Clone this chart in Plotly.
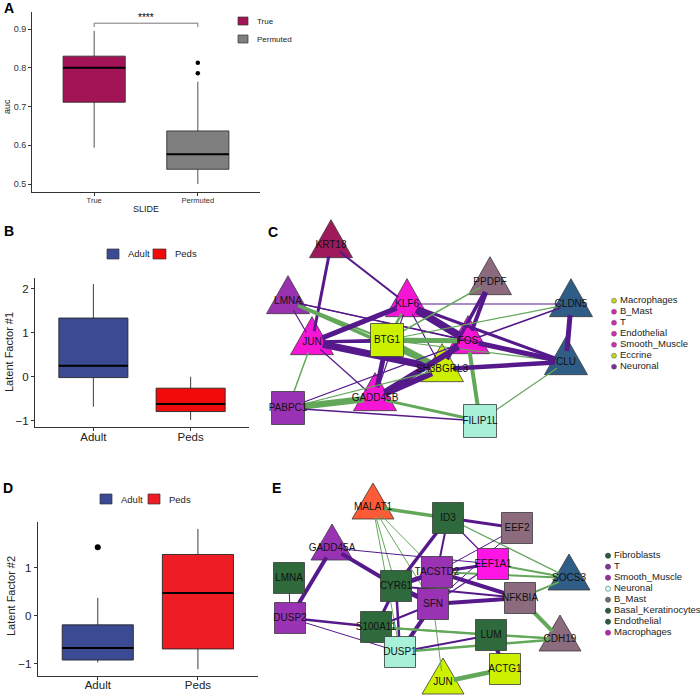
import math
import plotly.graph_objects as go

W, H = 700, 698
FONT = "Liberation Sans, Arial, sans-serif"

# ---------------- Panel A data ----------------
a_groups = ["True", "Permuted"]
a_q1 = [0.711, 0.538]
a_median = [0.800, 0.577]
a_q3 = [0.830, 0.637]
a_low = [0.594, 0.500]
a_high = [0.895, 0.764]
a_outlier_group = [1, 1]
a_outliers = [0.813, 0.786]
a_colors = ["#A21456", "#7F7F7F"]
a_ticks = [0.5, 0.6, 0.7, 0.8, 0.9]

# ---------------- Panel B data ----------------
b_groups = ["Adult", "Peds"]
b_q1 = [-0.02, -0.79]
b_median = [0.25, -0.62]
b_q3 = [1.33, -0.26]
b_low = [-0.68, -0.98]
b_high = [2.10, 0.00]
b_colors = ["#3B4B93", "#F00A0A"]
b_ticks = [-1, 0, 1, 2]

# ---------------- Panel D data ----------------
d_groups = ["Adult", "Peds"]
d_q1 = [-0.92, -0.69]
d_median = [-0.67, 0.47]
d_q3 = [-0.19, 1.27]
d_low = [-0.97, -1.11]
d_high = [0.37, 1.80]
d_outlier_group = [0]
d_outliers = [1.42]
d_colors = ["#3B4B93", "#EE1D23"]
d_ticks = [-1, 0, 1]

# ---------------- Panel C network ----------------
c_nodes = ["KRT18", "LMNA", "KLF6", "PPDPF", "JUN", "BTG1", "FOS", "SH3BGRL3",
           "GADD45B", "PABPC1", "FILIP1L", "CLDN5", "CLU"]
c_x = [331, 288, 407, 490, 312, 387, 468, 442, 375, 288, 480, 571, 566]
c_y = [245, 301, 304, 282, 342, 340, 341, 369, 398, 408, 421, 304, 362]
c_shape = ["tri", "tri", "tri", "tri", "tri", "sq", "tri", "tri", "tri", "sq", "sq", "tri", "tri"]
c_color = ["#9E1A5A", "#9A32B0", "#F516D5", "#8B6A7E", "#F516D5", "#CCF000", "#F516D5",
           "#CCF000", "#F516D5", "#9932B4", "#A8F0D8", "#2F5D85", "#2F5D85"]
c_src = ["KRT18", "KRT18", "LMNA", "LMNA", "LMNA", "LMNA", "LMNA", "KLF6", "KLF6", "KLF6",
         "KLF6", "KLF6", "KLF6", "KLF6", "PPDPF", "PPDPF", "PPDPF", "CLDN5", "CLDN5", "CLDN5",
         "JUN", "JUN", "JUN", "JUN", "JUN", "BTG1", "BTG1", "BTG1", "BTG1", "FOS", "FOS",
         "FOS", "FOS", "SH3BGRL3", "SH3BGRL3", "SH3BGRL3", "GADD45B", "GADD45B", "PABPC1",
         "FILIP1L"]
c_dst = ["JUN", "KLF6", "JUN", "SH3BGRL3", "BTG1", "FOS", "CLU", "CLDN5", "JUN", "FOS",
         "BTG1", "SH3BGRL3", "GADD45B", "CLU", "FOS", "SH3BGRL3", "BTG1", "BTG1", "FOS", "CLU",
         "BTG1", "FOS", "SH3BGRL3", "GADD45B", "PABPC1", "FOS", "SH3BGRL3", "GADD45B", "CLU",
         "CLU", "FILIP1L", "GADD45B", "PABPC1", "CLU", "GADD45B", "PABPC1", "PABPC1",
         "FILIP1L", "FILIP1L", "CLU"]
c_sign = ["n", "n", "n", "p", "p", "n", "n", "n", "n", "n",
          "p", "n", "n", "n", "n", "n", "p", "p", "n", "n",
          "n", "n", "n", "n", "p", "p", "p", "n", "p", "n", "p",
          "n", "n", "n", "n", "p", "p", "p", "n", "p"]
c_width = [3, 2, 1.2, 3.5, 2, 1.2, 1.2, 1.2, 5, 7.5,
           2.5, 1.2, 1.2, 3, 4, 3.5, 1.5, 1.2, 1.5, 5,
           3, 2.5, 7, 1.2, 1.5, 5, 6, 5, 1.2, 5, 4,
           6, 1.2, 4.5, 6, 1.2, 6.5, 3, 1.5, 1.2]
c_leg_labels = ["Macrophages", "B_Mast", "T", "Endothelial", "Smooth_Muscle", "Eccrine", "Neuronal"]
c_leg_colors = ["#BFD81E", "#D62AB3", "#D62AB3", "#D62AB3", "#D62AB3", "#BFD81E", "#7B2C9C"]

# ---------------- Panel E network ----------------
e_nodes = ["MALAT1", "ID3", "EEF2", "GADD45A", "EEF1A1", "TACSTD2", "LMNA", "CYR61", "SOCS3",
           "NFKBIA", "SFN", "DUSP2", "S100A11", "LUM", "CDH19", "DUSP1", "ACTG1", "JUN"]
e_x = [373, 448, 517, 332, 493, 437, 289, 396, 569, 520, 433, 290, 376, 491, 560, 400, 505, 443]
e_y = [507, 518, 528, 548, 564, 572, 578, 586, 578, 598, 604, 618, 627, 635, 639, 652, 669, 682]
e_shape = ["tri", "sq", "sq", "tri", "sq", "sq", "sq", "sq", "tri",
           "sq", "sq", "sq", "sq", "sq", "tri", "sq", "sq", "tri"]
e_color = ["#FF5A36", "#2F6A3C", "#8B6B7D", "#9A32B4", "#FF14E6", "#9A32B4", "#2F6A3C",
           "#2F6A3C", "#2F5D85", "#8B6B7D", "#9A32B4", "#9A32B4", "#2F6A3C", "#2F6A3C",
           "#8B6B7D", "#A8F0D8", "#CCF000", "#CCF000"]
e_src = ["MALAT1", "MALAT1", "MALAT1", "MALAT1", "MALAT1", "ID3", "ID3", "ID3", "ID3", "ID3",
         "EEF2", "EEF2", "GADD45A", "GADD45A", "GADD45A", "LMNA", "CYR61", "CYR61", "CYR61",
         "CYR61", "CYR61", "TACSTD2", "TACSTD2", "TACSTD2", "EEF1A1", "SFN", "SFN", "SFN",
         "SFN", "SFN", "NFKBIA", "NFKBIA", "DUSP2", "DUSP2", "S100A11", "S100A11", "DUSP1",
         "DUSP1", "LUM", "LUM", "JUN"]
e_dst = ["ID3", "CYR61", "TACSTD2", "SFN", "DUSP1", "EEF2", "CYR61", "TACSTD2", "EEF1A1",
         "SOCS3", "TACSTD2", "SFN", "EEF1A1", "CYR61", "DUSP2", "DUSP2", "TACSTD2", "SFN",
         "S100A11", "DUSP1", "NFKBIA", "EEF1A1", "NFKBIA", "SOCS3", "SOCS3", "NFKBIA",
         "DUSP1", "S100A11", "JUN", "EEF1A1", "SOCS3", "CDH19", "S100A11", "DUSP1", "LUM",
         "CDH19", "LUM", "CDH19", "CDH19", "ACTG1", "ACTG1"]
e_sign = ["p", "p", "p", "p", "p", "n", "n", "n", "n", "p",
          "n", "n", "n", "n", "n", "n", "n", "n", "n", "n", "n",
          "n", "n", "p", "p", "n", "n", "n", "p", "n",
          "p", "p", "n", "n", "p", "p", "n", "p", "p", "n", "p"]
e_width = [3.5, 1, 1, 1, 1, 3, 3.5, 2, 1.2, 1.2,
           1, 1, 1, 4, 4, 1, 5, 5, 3, 2.5, 2,
           3, 4, 2, 2, 4, 4, 2, 1, 1.2,
           2, 4, 2.5, 1, 2, 2, 2, 2.5, 2, 4, 4.5]
e_leg_labels = ["Fibroblasts", "T", "Smooth_Muscle", "Neuronal", "B_Mast",
                "Basal_Keratinocytes", "Endothelial", "Macrophages"]
e_leg_colors = ["#2F5A3F", "#7A3B8F", "#8A3597", "#FFFFFF", "#6E6E6E", "#2F5A3F", "#2F5A3F", "#A8309E"]
e_leg_lines = ["#2F5A3F", "#7A3B8F", "#8A3597", "#5AA897", "#6E6E6E", "#2F5A3F", "#2F5A3F", "#A8309E"]

EDGE_COL = {"n": "#55198B", "p": "#63A85A"}
TRIM = 11  # edges stop short of triangle centres (vertex radius)


def dom_x(p0, p1):
    return [p0 / W, p1 / W]


def dom_y(top, bottom):
    return [1 - bottom / H, 1 - top / H]


def px(p):
    return p / W


def py(p):
    return 1 - p / H


fig = go.Figure()


def add_boxes(xa, ya, q1, med, q3, lo, hi, colors, width, lw=0.9):
    for i in range(len(q1)):
        fig.add_trace(go.Box(
            x=[i], q1=[q1[i]], median=[med[i]], q3=[q3[i]],
            lowerfence=[lo[i]], upperfence=[hi[i]], width=width,
            fillcolor=colors[i], line=dict(color="#262626", width=lw),
            whiskerwidth=0, boxpoints=False, showlegend=False, hoverinfo="skip",
            xaxis=xa, yaxis=ya))
        fig.add_trace(go.Scatter(
            x=[i - width / 2, i + width / 2], y=[med[i], med[i]], mode="lines",
            line=dict(color="black", width=2), showlegend=False, hoverinfo="skip",
            xaxis=xa, yaxis=ya))


# Panel A
add_boxes("x", "y", a_q1, a_median, a_q3, a_low, a_high, a_colors, 0.6, 0.8)
fig.add_trace(go.Scatter(x=a_outlier_group, y=a_outliers, mode="markers",
                         marker=dict(color="black", size=4.5), showlegend=False,
                         xaxis="x", yaxis="y"))
top_a = max(a_high) + 0.02
fig.add_trace(go.Scatter(x=[0, 0, 1, 1], y=[top_a - 0.01, top_a, top_a, top_a - 0.01],
                         mode="lines", line=dict(color="#555", width=0.8),
                         showlegend=False, xaxis="x", yaxis="y"))
# Panel B
add_boxes("x2", "y2", b_q1, b_median, b_q3, b_low, b_high, b_colors, 0.71)
# Panel D
add_boxes("x3", "y3", d_q1, d_median, d_q3, d_low, d_high, d_colors, 0.71)
fig.add_trace(go.Scatter(x=d_outlier_group, y=d_outliers, mode="markers",
                         marker=dict(color="black", size=6), showlegend=False,
                         xaxis="x3", yaxis="y3"))


def poly(shape, cx, cy, tw, th, s):
    if shape == "tri":
        return ([cx - tw / 2, cx + tw / 2, cx, cx - tw / 2],
                [cy + th / 3, cy + th / 3, cy - 2 * th / 3, cy + th / 3])
    h = s / 2
    return ([cx - h, cx + h, cx + h, cx - h, cx - h],
            [cy - h, cy - h, cy + h, cy + h, cy - h])


def add_network(xa, ya, nodes, xs, ys, shapes, colors, src, dst, sign, widths, tw, th, s):
    pos = {n: (xs[i], ys[i]) for i, n in enumerate(nodes)}
    shp = {n: shapes[i] for i, n in enumerate(nodes)}
    # triangles beneath edges
    for i, n in enumerate(nodes):
        if shapes[i] == "tri":
            X, Y = poly("tri", xs[i], ys[i], tw, th, s)
            fig.add_trace(go.Scatter(x=X, y=Y, mode="lines", fill="toself",
                                     fillcolor=colors[i], line=dict(color="#3a3a3a", width=0.8),
                                     showlegend=False, hoverinfo="skip", xaxis=xa, yaxis=ya))
    for k in range(len(src)):
        (x0, y0), (x1, y1) = pos[src[k]], pos[dst[k]]
        L = math.hypot(x1 - x0, y1 - y0)
        ux, uy = (x1 - x0) / L, (y1 - y0) / L
        if shp[src[k]] == "tri":
            x0, y0 = x0 + ux * TRIM, y0 + uy * TRIM
        if shp[dst[k]] == "tri":
            x1, y1 = x1 - ux * TRIM, y1 - uy * TRIM
        fig.add_trace(go.Scatter(x=[x0, x1], y=[y0, y1], mode="lines",
                                 line=dict(color=EDGE_COL[sign[k]], width=widths[k]),
                                 showlegend=False, hoverinfo="skip", xaxis=xa, yaxis=ya))
    for i, n in enumerate(nodes):
        if shapes[i] == "sq":
            X, Y = poly("sq", xs[i], ys[i], tw, th, s)
            fig.add_trace(go.Scatter(x=X, y=Y, mode="lines", fill="toself",
                                     fillcolor=colors[i], line=dict(color="#3a3a3a", width=0.8),
                                     showlegend=False, hoverinfo="skip", xaxis=xa, yaxis=ya))
    fig.add_trace(go.Scatter(x=xs, y=ys, mode="text", text=nodes,
                             textfont=dict(size=10, color="#111", family=FONT),
                             textposition="middle center", showlegend=False,
                             hoverinfo="skip", xaxis=xa, yaxis=ya))


add_network("x4", "y4", c_nodes, c_x, c_y, c_shape, c_color, c_src, c_dst, c_sign, c_width,
            43, 38, 33)
add_network("x5", "y5", e_nodes, e_x, e_y, e_shape, e_color, e_src, e_dst, e_sign, e_width,
            42, 36, 31)

# network legends
c_leg_y = [300.7 + 11 * i for i in range(len(c_leg_labels))]
fig.add_trace(go.Scatter(x=[614] * len(c_leg_labels), y=c_leg_y, mode="markers",
                         marker=dict(size=5, color=c_leg_colors, line=dict(color="#555", width=0.5)),
                         showlegend=False, xaxis="x4", yaxis="y4"))
fig.add_trace(go.Scatter(x=[620] * len(c_leg_labels), y=c_leg_y, mode="text", text=c_leg_labels,
                         textposition="middle right",
                         textfont=dict(size=9.5, color="#222", family=FONT),
                         showlegend=False, xaxis="x4", yaxis="y4"))
e_leg_y = [555.7 + 11 * i for i in range(len(e_leg_labels))]
fig.add_trace(go.Scatter(x=[608] * len(e_leg_labels), y=e_leg_y, mode="markers",
                         marker=dict(size=5, color=e_leg_colors,
                                     line=dict(color=e_leg_lines, width=1)),
                         showlegend=False, xaxis="x5", yaxis="y5"))
fig.add_trace(go.Scatter(x=[614] * len(e_leg_labels), y=e_leg_y, mode="text", text=e_leg_labels,
                         textposition="middle right",
                         textfont=dict(size=9.5, color="#222", family=FONT),
                         showlegend=False, xaxis="x5", yaxis="y5"))

axis_common = dict(showline=True, linecolor="#333", linewidth=1, ticks="outside",
                   tickcolor="#333", ticklen=3, showgrid=False, zeroline=False,
                   fixedrange=True)

fig.update_layout(
    width=W, height=H, autosize=False, margin=dict(l=0, r=0, t=0, b=0),
    paper_bgcolor="white", plot_bgcolor="white", showlegend=False,
    font=dict(family=FONT, color="#333"),
    xaxis=dict(domain=dom_x(32, 260), range=[-0.6, 1.6], tickvals=[0, 1], ticktext=a_groups,
               tickfont=dict(size=7.5, color="#333"), ticklabelstandoff=-2,
               anchor="y", **axis_common),
    yaxis=dict(domain=dom_y(12, 192), range=[0.4794, 0.9439], tickvals=a_ticks,
               ticktext=[f"{v:.1f}" for v in a_ticks],
               tickfont=dict(size=9, color="#333"), anchor="x", **axis_common),
    xaxis2=dict(domain=dom_x(35, 249), range=[-0.6, 1.6], tickvals=[0, 1], ticktext=b_groups,
                tickfont=dict(size=11.5, color="#222"), ticklabelstandoff=-4,
                anchor="y2", **axis_common),
    yaxis2=dict(domain=dom_y(278, 427), range=[-1.14, 2.238], tickvals=b_ticks,
                ticktext=[str(v).replace("-", "\u2212") for v in b_ticks],
                tickfont=dict(size=11.5, color="#222"), anchor="x2", **axis_common),
    xaxis3=dict(domain=dom_x(37.7, 258), range=[-0.6, 1.6], tickvals=[0, 1], ticktext=d_groups,
                tickfont=dict(size=11.5, color="#222"), ticklabelstandoff=-5,
                anchor="y3", **axis_common),
    yaxis3=dict(domain=dom_y(521.7, 675.7), range=[-1.245, 1.95], tickvals=d_ticks,
                ticktext=[str(v).replace("-", "\u2212") for v in d_ticks],
                tickfont=dict(size=11.5, color="#222"), anchor="x3", **axis_common),
    xaxis4=dict(domain=dom_x(260, 700), range=[260, 700], visible=False, anchor="y4", fixedrange=True),
    yaxis4=dict(domain=dom_y(215, 455), range=[455, 215], visible=False, anchor="x4", fixedrange=True),
    xaxis5=dict(domain=dom_x(260, 700), range=[260, 700], visible=False, anchor="y5", fixedrange=True),
    yaxis5=dict(domain=dom_y(465, 698), range=[698, 465], visible=False, anchor="x5", fixedrange=True),
)

ann = []


def text(x, y, s, size, bold=False, color="#222", angle=0, xanchor="center"):
    ann.append(dict(x=px(x), y=py(y), xref="paper", yref="paper", text=f"<b>{s}</b>" if bold else s,
                    showarrow=False, font=dict(size=size, color=color, family=FONT),
                    textangle=angle, xanchor=xanchor, yanchor="middle"))


# panel labels
text(9, 8, "A", 14, True, "black")
text(9, 231, "B", 14, True, "black")
text(273, 232, "C", 14, True, "black")
text(8, 488, "D", 14, True, "black")
text(276, 488, "E", 14, True, "black")
# axis titles
text(7, 107, "auc", 9, angle=-90)
text(146, 209, "SLIDE", 9)
text(9, 352, "Latent Factor #1", 11, angle=-90)
text(11, 596, "Latent Factor #2", 11, angle=-90)
# significance stars
ann.append(dict(x=0.5, y=top_a, xref="x", yref="y", text="****", showarrow=False,
                yanchor="bottom", yshift=-2, font=dict(size=10, color="black", family=FONT)))

shapes = []


def key(x0, y0, x1, y1, color, label, fsize):
    shapes.append(dict(type="rect", xref="paper", yref="paper", x0=px(x0), x1=px(x1),
                       y0=py(y1), y1=py(y0), fillcolor=color, line=dict(color="#333", width=0.7)))
    text(x1 + 7, (y0 + y1) / 2, label, fsize, xanchor="left")


key(238, 17, 248, 25, a_colors[0], a_groups[0], 8)
key(238, 35, 248, 43, a_colors[1], a_groups[1], 8)
key(107, 249, 119, 259, b_colors[0], b_groups[0], 9.5)
key(153, 249, 166, 259, b_colors[1], b_groups[1], 9.5)
key(100, 494, 112, 504, d_colors[0], d_groups[0], 9.5)
key(148, 494, 160, 504, d_colors[1], d_groups[1], 9.5)

fig.update_layout(annotations=ann, shapes=shapes)
fig.write_html("out.html", config={"displayModeBar": False},
               post_script="document.body.style.margin='0';document.body.style.padding='0';")
